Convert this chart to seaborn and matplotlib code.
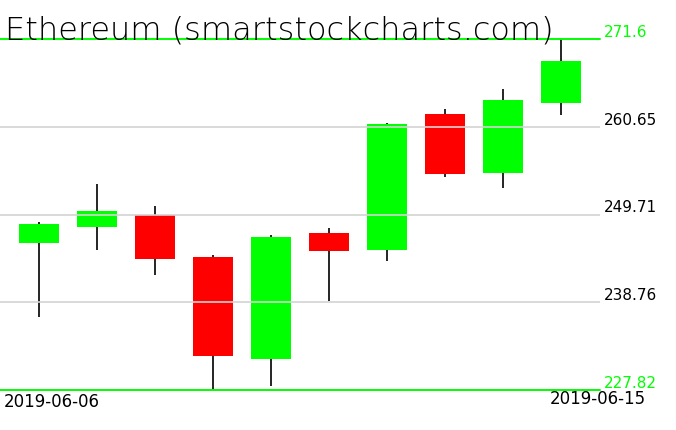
import numpy as np
import matplotlib
matplotlib.use("Agg")
import matplotlib.pyplot as plt
import seaborn as sns

# ── data ────────────────────────────────────────────────────────────────────
dates = ["2019-06-06", "2019-06-07", "2019-06-08", "2019-06-09", "2019-06-10",
         "2019-06-11", "2019-06-12", "2019-06-13", "2019-06-14", "2019-06-15"]
opens = [246.19, 248.19, 249.69, 244.41, 231.72, 247.40, 245.32, 262.25, 254.89, 263.65]
closes = [248.53, 250.15, 244.20, 232.10, 246.90, 245.16, 261.00, 254.76, 263.99, 268.86]
highs = [248.81, 253.51, 250.77, 244.66, 247.15, 248.03, 261.09, 262.87, 265.36, 271.60]
lows = [236.96, 245.32, 242.20, 227.82, 228.36, 238.96, 243.91, 254.42, 253.05, 262.16]

y_max = 271.6
y_min = 227.82
grid_levels = [260.65, 249.71, 238.76]
grid_labels = ["260.65", "249.71", "238.76"]

GREEN = "#00ff00"
RED = "#ff0000"
GRAY = "#d3d3d3"

sns.set_style("white")
plt.rcParams["font.family"] = ["DejaVu Sans"]
plt.rcParams["text.color"] = "black"

W, H = 676, 431
fig = plt.figure(figsize=(W / 100, H / 100), dpi=100)
ax = fig.add_axes([0, 40 / H, 600 / W, 351 / H])

x = np.arange(len(dates))
o = np.array(opens)
c = np.array(closes)
colors = [GREEN if cc >= oo else RED for oo, cc in zip(o, c)]

# wicks, then bodies
ax.vlines(x, lows, highs, color="black", linewidth=1.2, zorder=1)
ax.bar(x, np.abs(c - o), bottom=np.minimum(o, c), width=40 / 58,
       color=colors, linewidth=0, zorder=2)

# grid lines drawn over the candles
for lvl in grid_levels:
    ax.axhline(lvl, color=GRAY, linewidth=1.2, zorder=3)
ax.axhline(y_max, color=GREEN, linewidth=1.4, zorder=4, clip_on=False)
ax.axhline(y_min, color=GREEN, linewidth=1.4, zorder=4, clip_on=False)

ax.set_xlim(-39 / 58, (600 - 39) / 58)
ax.set_ylim(y_min, y_max)
ax.axis("off")

# price labels on the right
tr = ax.get_yaxis_transform()
lx = 604 / 600
ax.text(lx, y_max, "271.6", color=GREEN, fontsize=11, va="bottom", ha="left",
        transform=tr, clip_on=False)
for lvl, lab in zip(grid_levels, grid_labels):
    ax.text(lx, lvl, lab, color="black", fontsize=11, va="bottom", ha="left",
            transform=tr, clip_on=False)
ax.text(lx, y_min, "227.82", color=GREEN, fontsize=11, va="bottom", ha="left",
        transform=tr, clip_on=False)

# date labels
fig.text(4 / W, 1 - 393 / H, dates[0], fontsize=12, va="top", ha="left")
fig.text(646 / W, 1 - 390 / H, dates[-1], fontsize=12, va="top", ha="right")

# title
fig.text(5 / W, 1 - 39 / H, "Ethereum (smartstockcharts.com)", fontsize=23,
         fontweight="light", va="baseline", ha="left")

fig.savefig("out.png", dpi=100)
